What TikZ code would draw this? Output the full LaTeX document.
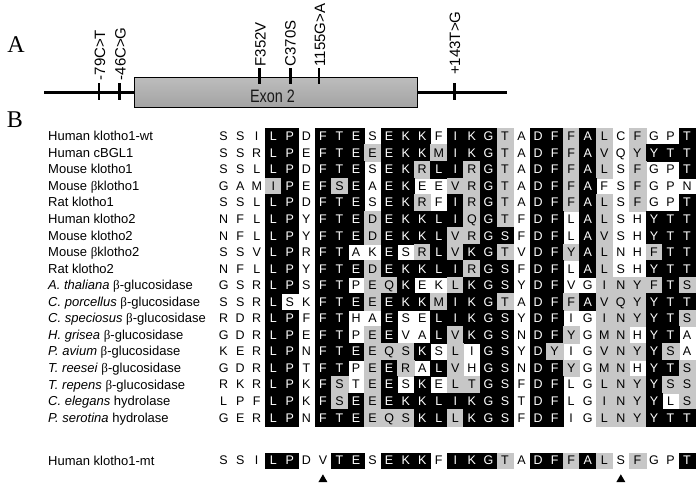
\documentclass[tikz,border=0pt]{standalone}
\usepackage{fontspec}
\usepackage{graphicx}
\setmainfont{Liberation Sans}
\newfontfamily\serifface{Liberation Serif}
\usetikzlibrary{shapes.geometric,shadings}
\definecolor{cellgray}{gray}{0.78}
\newcommand\bet{{\serifface β}}
\newcounter{alcol}
\makeatletter
\def\alparse#1#2\relax#3#4\relax{%
  \stepcounter{alcol}%
  \node[cell#3,rowextra] (c\alrowid-\arabic{alcol}) at ({215.35+16.55*(\arabic{alcol}-0.5)},\alrowy) {#1};%
  \ifx\relax#2\relax\expandafter\@gobble\else\expandafter\@firstofone\fi
  {\alparse#2\relax#4\relax}}
\makeatother
\newcommand\alrow[5]{%
  \node[lab] (l#1) at (48,#2+4.5) {#5};%
  \setcounter{alcol}{0}\def\alrowid{#1}\def\alrowy{#2}%
  \alparse#3\relax#4\relax}
\tikzset{
  cellbase/.style={minimum width=16.55pt, minimum height=16.55pt, inner sep=0pt,
    text height=8.9pt, text depth=0pt, font=\fontsize{12.5}{12.5}\selectfont},
  cellW/.style={cellbase},
  cellB/.style={cellbase, fill=black, draw=black, line width=0.3pt, text=white},
  cellG/.style={cellbase, fill=cellgray, draw=cellgray, line width=0.3pt},
  rowextra/.style={},
  lab/.style={anchor=base west, inner sep=0pt, font=\fontsize{13}{13}\selectfont},
  mut/.style={rotate=90, anchor=west, inner sep=0pt, font=\fontsize{15}{15}\selectfont},
  tickline/.style={line width=2.5pt},
  panel/.style={inner sep=0pt, font=\serifface\fontsize{24}{24}\selectfont},
  exonbox/.style={draw=black, line width=0.9pt, top color=gray!52, bottom color=gray!72,
    minimum width=283pt, minimum height=30pt, inner sep=0pt},
  marker/.style={regular polygon, regular polygon sides=3, fill=black, draw=none,
    minimum size=10.4pt, inner sep=0pt},
}
\begin{document}
\begin{tikzpicture}[x=1pt,y=-1pt]
\useasboundingbox (0,0) rectangle (700,483);
% ---------- Panel A ----------
\node[panel] (pA) at (16,45) {A};
\coordinate (L0) at (44,92);
\coordinate (L1) at (507,92);
\draw[line width=3pt] (L0) -- (L1);
\node[exonbox] (exon) at (275.5,92.3) {};
\node[inner sep=0pt, text=black!90, font=\fontsize{18}{18}\selectfont] (exonlabel) at (272.5,95.8) {\scalebox{0.8}[1]{Exon 2}};
% ticks
\coordinate (t1a) at (99,83);   \coordinate (t1b) at (99,100);
\coordinate (t2a) at (119.3,83); \coordinate (t2b) at (119.3,100);
\coordinate (t3a) at (259.3,68); \coordinate (t3b) at (259.3,84);
\coordinate (t4a) at (290.3,68); \coordinate (t4b) at (290.3,84);
\coordinate (t5a) at (319,68);   \coordinate (t5b) at (319,84);
\coordinate (t6a) at (454.3,83); \coordinate (t6b) at (454.3,100);
\foreach \i in {1,...,6}{\draw[tickline] (t\i a) -- (t\i b);}
\node[mut] (m1) at (100,80.5) {-79C>T};
\node[mut] (m2) at (120.5,80.5) {-46C>G};
\node[mut] (m3) at (260.5,66.5) {F352V};
\node[mut] (m4) at (290.5,66.5) {C370S};
\node[mut] (m5) at (320,66.5) {1155G>A};
\node[mut] (m6) at (455,75) {+143T>G};
% ---------- Panel B ----------
\node[panel] (pB) at (15,120) {B};
\alrow{1}{136.28}{SSILPDFTESEKKFIKGTADFFALCFGPT}{WWWBBWBBBWBBBWBBBGWBBGBGWGWWB}{Human klotho1-wt}
\alrow{2}{152.83}{SSRLPEFTEEEKKMIKGTADFFAVQYYTT}{WWWBBWBBBGBBBGBBBGWBBGBGWGBBB}{Human cBGL1}
\alrow{3}{169.38}{SSLLPDFTESEKRLIRGTADFFALSFGPT}{WWWBBWBBBWBBGBBGBGWBBGBGWGWWB}{Mouse klotho1}
\alrow{4}{185.93}{GAMIPEFSEAEKEEVRGTADFFAFSFGPN}{WWWGBWBGBWBBWWGGBGWBBGBWWGWWW}{Mouse \bet klotho1}
\alrow{5}{202.48}{SSLLPDFTESEKRFIRGTADFFALSFGPT}{WWWBBWBBBWBBGWBGBGWBBGBGWGWWB}{Rat klotho1}
\alrow{6}{219.03}{NFLLPYFTEDEKKLIQGTFDFLALSHYTT}{WWWBBWBBBGBBBBBGBGWBBWBGWWBBB}{Human klotho2}
\alrow{7}{235.58}{NFLLPYFTEDEKKLVRGSFDFLAVSHYTT}{WWWBBWBBBGBBBBGGBBWBBWBGWWBBB}{Mouse klotho2}
\alrow{8}{252.13}{SSVLPRFTAKESRLVKGTVDFYALNHFTT}{WWWBBWBBWWBWGBGBBGWBBGBGWWGBB}{Mouse \bet klotho2}
\alrow{9}{268.68}{NFLLPYFTEDEKKLIRGSFDFLALSHYTT}{WWWBBWBBBGBBBBBGBBWBBWBGWWBBB}{Rat klotho2}
\alrow{10}{285.23}{GSRLPSFTPEQKEKLKGSYDFVGINYFTS}{WWWBBWBBWGGBWWGBBBWBBWWGGGGBG}{\textit{A. thaliana} \bet-glucosidase}
\alrow{11}{301.78}{SSRLSKFTEEEKKMIKGTADFFAVQYYTT}{WWWBWWBBBGBBBGBBBGWBBGBGGGBBB}{\textit{C. porcellus} \bet-glucosidase}
\alrow{12}{318.33}{RDRLPFFTHAESELIKGSYDFIGINYYTS}{WWWBBWBBWWBWWBBBBBWBBWWGGGBBG}{\textit{C. speciosus} \bet-glucosidase}
\alrow{13}{334.88}{GDRLPEFTPEEVALVKGSNDFYGMNHYTA}{WWWBBWBBWGBWWBGBBBWBBGWGGWBBW}{\textit{H. grisea} \bet-glucosidase}
\alrow{14}{351.43}{KERLPNFTEEQSKSLIGSYDYIGVNYYSA}{WWWBBWBBBGGGBWGWBBWBGWWGGGBGW}{\textit{P. avium} \bet-glucosidase}
\alrow{15}{367.98}{GDRLPTFTPEERALVHGSNDFYGMNHYTS}{WWWBBWBBWGBGWBGWBBWBBGWGGWBBG}{\textit{T. reesei} \bet-glucosidase}
\alrow{16}{384.53}{RKRLPKFSTEESKELTGSFDFLGLNYYSS}{WWWBBWBGWGBWBWGGBBWBBWWGGGBGG}{\textit{T. repens} \bet-glucosidase}
\alrow{17}{401.08}{LPFLPKFSEEEKKLIKGSTDFLGINYYLS}{WWWBBWBGBGBBBBBBBBWBBWWGGGBWG}{\textit{C. elegans} hydrolase}
\alrow{18}{417.63}{GERLPNFTEEQSKLLKGSFDFIGLNYYTT}{WWWBBWBBBGGGBBGBBBWBBWWGGGBBB}{\textit{P. serotina} hydrolase}
\tikzset{rowextra/.style={minimum height=15.5pt}}
\alrow{19}{460.5}{SSILPDVTESEKKFIKGTADFFALSFGPT}{WWWBBWWBBWBBBWBBBGWBBGBGWGWWB}{Human klotho1-mt}
\coordinate (arrowline) at (0,479.5);
\node[marker] (a1) at (c19-7 |- arrowline) {};
\node[marker] (a2) at (c19-25 |- arrowline) {};
\end{tikzpicture}
\end{document}
